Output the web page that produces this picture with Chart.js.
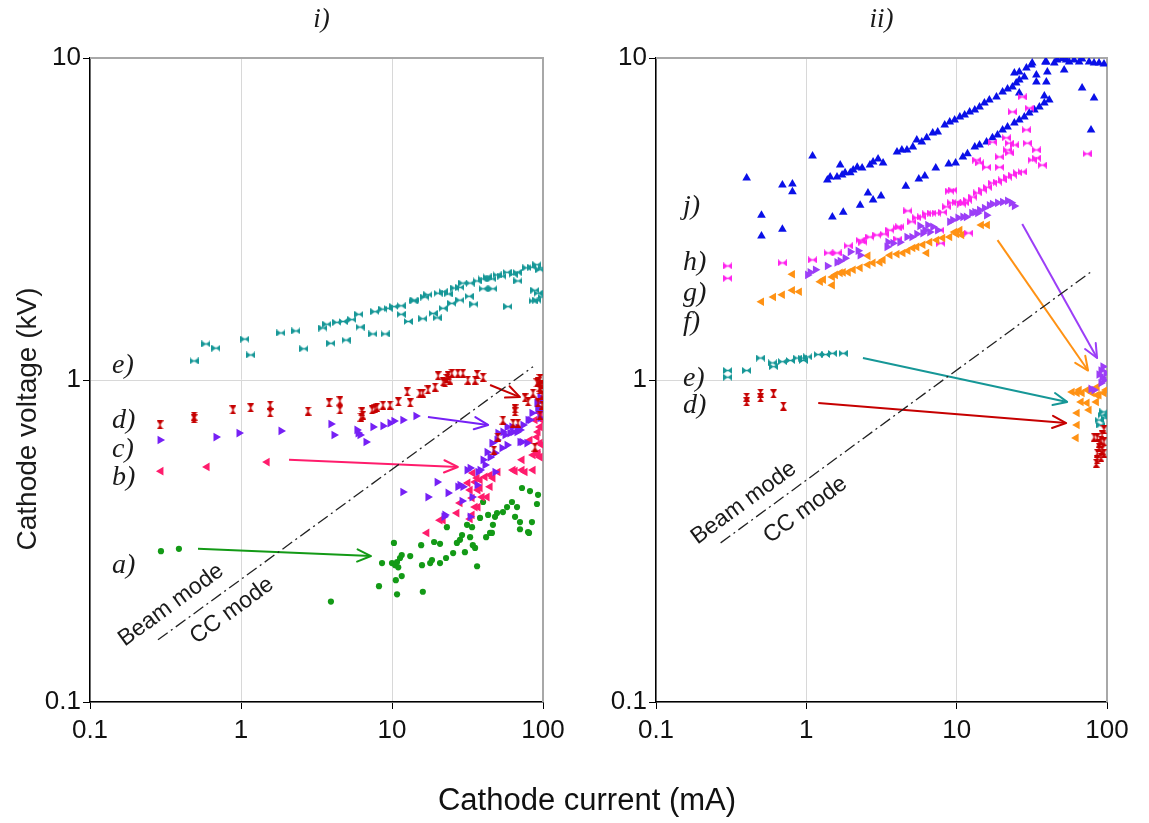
<!DOCTYPE html>
<html>
<head>
<meta charset="utf-8">
<script src="https://cdn.jsdelivr.net/npm/chart.js@4.4.1/dist/chart.umd.min.js"></script>
<style>
  html, body { margin: 0; padding: 0; background: #fff; }
  #wrap { position: relative; width: 1149px; height: 823px; overflow: hidden; background: #fff; }
  #c1 { position: absolute; left: 0; top: 0; }
  #c2 { position: absolute; left: 560px; top: 0; }
  #xt { position: absolute; left: 0; width: 1174px; top: 782px; line-height: 36px; text-align: center;
        font: 31px "Liberation Sans", Arial, sans-serif; color: #111; }
</style>
</head>
<body>
<div id="wrap">
  <canvas id="c1" width="580" height="823"></canvas>
  <canvas id="c2" width="589" height="823"></canvas>
  <div id="xt">Cathode current (mA)</div>
</div>
<script>
// ---- axis ticks ----
const currentTicks = [0.1, 1, 10, 100];
const currentTickLabels = ['0.1', '1', '10', '100'];
const voltageTicks = [0.1, 1, 10];
const voltageTickLabels = ['0.1', '1', '10'];

// ---- panel i) : [cathode current (mA), cathode voltage (kV)] ----
const iA = [[0.295,0.294],[0.388,0.299],[3.94,0.205],[8.20,0.229],[8.59,0.270],[10.3,0.312],[10.0,0.270],[10.5,0.266],[10.8,0.272],[11.0,0.262],[11.3,0.280],[11.6,0.286],[13.2,0.284],[10.6,0.239],[11.6,0.246],[10.8,0.216],[16.0,0.220],[15.6,0.307],[15.8,0.266],[17.9,0.270],[18.4,0.276],[19.0,0.314],[20.8,0.310],[20.8,0.270],[22.8,0.280],[25.4,0.290],[26.9,0.312],[28.2,0.319],[29.1,0.330],[30.4,0.292],[31.4,0.355],[32.9,0.325],[35.5,0.301],[36.6,0.264],[42.0,0.325],[44.6,0.335],[46.6,0.355],[43.3,0.381],[49.6,0.386],[54.3,0.389],[57.8,0.403],[62.3,0.418],[67.3,0.403],[65.3,0.376],[70.4,0.344],[72.6,0.462],[82.0,0.452],[80.8,0.335],[84.5,0.362],[92.7,0.440],[91.2,0.412],[40.1,0.418],[48.1,0.376],[70.4,0.362],[79.6,0.337],[45.9,0.335],[38.3,0.373],[33.9,0.349],[23.1,0.349],[34.3,0.307]];
const iB = [[0.295,0.521],[0.596,0.537],[1.49,0.556],[17.0,0.335],[20.8,0.367],[21.8,0.367],[26.9,0.386],[28.2,0.415],[32.9,0.370],[33.9,0.381],[33.9,0.430],[35.5,0.403],[37.1,0.403],[36.6,0.496],[39.5,0.433],[42.6,0.433],[32.9,0.455],[37.1,0.455],[31.8,0.479],[34.3,0.514],[35.5,0.482],[38.3,0.489],[38.3,0.462],[41.3,0.500],[44.6,0.507],[44.6,0.466],[46.6,0.496],[50.3,0.518],[63.3,0.525],[65.3,0.521],[72.6,0.525],[76.0,0.518],[72.6,0.565],[85.9,0.585],[92.7,0.585],[95.5,0.790],[95.5,0.715],[91.2,0.665],[95.5,0.637],[92.7,0.593],[95.5,0.576],[82.0,0.651],[88.5,0.751],[92.7,0.690],[98.5,0.751],[98.5,0.628],[85.9,0.525]];
const iC = [[0.291,0.651],[0.683,0.665],[0.97,0.684],[1.84,0.695],[3.94,0.730],[4.13,0.675],[5.86,0.700],[5.96,0.684],[6.14,0.675],[6.73,0.642],[7.48,0.715],[8.71,0.720],[9.70,0.735],[10.3,0.746],[11.8,0.751],[14.4,0.773],[11.8,0.449],[17.3,0.433],[19.9,0.482],[22.1,0.376],[22.4,0.381],[23.5,0.446],[27.3,0.466],[28.2,0.472],[29.5,0.466],[29.1,0.421],[31.4,0.525],[32.9,0.533],[32.9,0.376],[33.9,0.433],[36.6,0.472],[37.1,0.518],[38.3,0.525],[40.1,0.565],[41.3,0.545],[42.6,0.597],[44.6,0.576],[45.9,0.637],[48.1,0.593],[48.1,0.518],[49.6,0.651],[50.3,0.684],[53.5,0.615],[54.3,0.690],[56.0,0.675],[57.8,0.715],[57.8,0.628],[60.4,0.684],[62.3,0.715],[63.3,0.690],[67.3,0.690],[68.3,0.710],[70.4,0.700],[70.4,0.642],[72.6,0.642],[73.7,0.725],[78.3,0.637],[79.6,0.751],[82.0,0.751],[84.5,0.790],[91.2,0.849],[92.7,0.824],[92.7,0.807],[95.5,0.885],[95.5,0.762],[98.5,0.867],[98.5,0.807]];
const iD = [[0.291,0.725],[0.489,0.773],[0.489,0.757],[0.885,0.807],[1.16,0.819],[1.56,0.836],[1.56,0.790],[2.78,0.801],[3.83,0.849],[4.52,0.861],[4.52,0.807],[6.32,0.796],[6.42,0.778],[6.23,0.767],[7.38,0.807],[7.71,0.813],[7.95,0.824],[8.71,0.836],[9.70,0.836],[11.0,0.855],[12.6,0.918],[13.2,0.849],[15.3,0.911],[16.0,0.911],[17.3,0.931],[19.3,0.951],[20.2,1.03],[21.8,0.986],[22.4,0.979],[23.1,1.01],[23.5,1.03],[24.2,1.0],[24.9,1.05],[27.3,1.05],[29.5,1.05],[31.8,1.0],[35.5,1.0],[36.6,1.04],[40.1,1.02],[54.3,0.751],[65.3,0.813],[65.3,0.796],[68.3,0.735],[47.3,0.606],[88.5,0.619],[79.6,0.855],[76.0,0.880],[85.9,0.911],[91.2,0.979],[92.7,0.986],[95.5,0.951],[95.5,0.931],[92.7,0.849],[95.5,0.778],[95.5,1.01],[98.5,0.965],[98.5,0.898],[98.5,0.836],[50.3,0.665],[63.3,0.735]];
const iE = [[0.489,1.146],[0.586,1.294],[0.683,1.256],[1.06,1.34],[1.16,1.196],[1.84,1.40],[2.31,1.42],[2.61,1.25],[3.49,1.45],[3.71,1.49],[3.94,1.30],[4.32,1.51],[4.74,1.52],[4.96,1.33],[5.43,1.54],[6.04,1.60],[6.14,1.46],[7.48,1.39],[7.71,1.63],[8.71,1.66],[9.41,1.67],[10.3,1.69],[11.5,1.70],[9.0,1.39],[11.5,1.60],[12.8,1.52],[13.8,1.76],[14.2,1.77],[16.0,1.55],[16.5,1.81],[17.3,1.84],[18.7,1.61],[19.9,1.56],[20.2,1.86],[21.8,1.88],[23.5,1.85],[21.8,1.67],[24.9,1.73],[28.2,1.77],[32.4,1.82],[34.9,1.72],[26.1,1.93],[28.2,1.94],[29.5,2.0],[32.9,2.0],[36.6,2.03],[39.5,2.06],[42.6,2.09],[45.9,2.06],[49.6,2.12],[53.5,2.10],[57.8,2.16],[63.3,2.13],[67.3,2.16],[40.1,1.92],[46.6,1.92],[58.6,1.69],[68.3,2.03],[78.3,2.23],[84.5,2.24],[91.2,2.28],[95.5,2.20],[88.5,1.90],[92.7,1.86],[85.9,1.76],[91.2,1.77],[98.5,2.23],[98.5,1.81]];

// ---- panel ii) ----
const iiD = [[0.401,0.885],[0.401,0.855],[0.496,0.911],[0.496,0.880],[0.605,0.905],[0.704,0.830],[82.0,0.665],[86.0,0.661],[91.2,0.651],[92.7,0.675],[95.5,0.700],[88.5,0.619],[92.7,0.606],[86.0,0.593],[91.2,0.576],[86.0,0.565],[84.8,0.552],[88.5,0.637],[95.5,0.642],[95.5,0.593]];
const iiE = [[0.300,1.07],[0.300,1.02],[0.401,1.07],[0.496,1.17],[0.596,1.13],[0.605,1.10],[0.693,1.14],[0.783,1.15],[0.872,1.17],[0.941,1.17],[0.955,1.15],[1.02,1.18],[1.20,1.20],[1.34,1.20],[1.49,1.21],[1.76,1.21],[95.5,0.796],[92.7,0.778],[88.5,0.751],[91.2,0.725],[97.0,0.762]];
const iiF = [[0.503,1.75],[0.605,1.81],[0.693,1.84],[0.808,1.90],[0.899,1.88],[0.808,2.13],[1.24,2.02],[1.30,2.05],[1.49,2.09],[1.56,2.12],[1.68,2.15],[1.76,2.16],[1.90,2.16],[2.05,2.20],[2.28,2.23],[1.49,1.97],[2.57,2.43],[2.57,2.28],[2.78,2.31],[3.09,2.32],[3.24,2.36],[3.60,2.44],[4.01,2.46],[4.39,2.48],[4.74,2.52],[5.11,2.57],[6.32,2.48],[5.43,2.59],[5.96,2.63],[6.62,2.68],[7.37,2.72],[8.07,2.76],[8.99,2.78],[10.0,2.84],[10.8,2.82],[9.70,2.88],[10.5,2.92],[14.6,3.03],[16.0,3.03],[58.6,0.918],[63.3,0.911],[68.3,0.911],[73.7,0.931],[79.6,0.911],[88.5,0.898],[95.5,0.911],[86.0,0.951],[98.5,0.931],[67.3,0.855],[73.7,0.849],[63.3,0.790],[76.0,0.807],[63.3,0.725],[62.3,0.661],[86.0,0.898],[65.3,0.931],[85.0,0.855]];
const iiG = [[1.02,2.12],[1.06,2.16],[1.15,2.20],[1.38,2.26],[1.60,2.32],[1.68,2.34],[1.81,2.39],[1.96,2.50],[2.21,2.52],[2.28,2.44],[3.44,2.59],[3.49,2.68],[3.77,2.66],[4.19,2.68],[4.67,2.78],[5.04,2.78],[5.43,2.84],[5.69,3.01],[5.96,2.86],[6.14,2.92],[6.42,3.03],[6.62,2.88],[6.93,2.99],[7.48,2.92],[8.99,3.10],[9.41,3.14],[10.2,3.19],[11.0,3.21],[11.6,3.21],[12.6,3.30],[13.2,3.32],[13.8,3.30],[15.8,3.25],[14.2,3.37],[15.3,3.42],[16.5,3.49],[17.3,3.52],[18.7,3.55],[20.2,3.57],[21.8,3.60],[23.1,3.55],[24.2,3.47],[91.2,1.07],[92.7,1.02],[95.5,1.00],[91.2,0.979],[98.5,1.05],[78.3,0.938],[82.0,0.931],[94.0,1.10],[88.5,1.04]];
const iiH = [[0.300,2.26],[0.300,2.07],[0.693,2.31],[1.10,2.36],[1.40,2.48],[1.60,2.48],[1.90,2.61],[2.28,2.72],[2.38,2.68],[2.65,2.78],[2.95,2.82],[3.29,2.84],[3.60,2.92],[4.01,2.97],[4.19,2.99],[4.06,2.74],[4.74,3.35],[5.04,3.10],[5.43,3.19],[5.86,3.21],[6.32,3.28],[6.83,3.30],[7.37,3.30],[8.07,3.32],[8.59,3.45],[9.27,3.55],[10.0,3.57],[10.8,3.52],[11.3,3.55],[8.99,3.86],[9.41,3.89],[7.83,2.66],[12.0,2.86],[7.71,2.92],[11.8,3.62],[12.8,3.70],[13.8,3.81],[14.9,3.89],[16.0,3.97],[17.3,4.09],[18.7,4.12],[20.2,4.18],[21.8,4.27],[23.5,4.33],[25.4,4.40],[27.3,4.43],[31.8,4.82],[33.9,4.89],[37.1,4.65],[13.6,4.82],[14.2,4.72],[15.8,4.58],[19.3,4.58],[19.3,4.93],[17.3,5.48],[21.4,5.65],[22.4,5.44],[24.2,5.37],[21.8,5.18],[22.4,5.07],[29.5,5.44],[33.9,5.18],[29.1,5.98],[23.5,6.80],[27.3,7.57],[30.4,6.99],[73.7,5.04]];
const iiJ = [[0.401,4.24],[0.503,3.25],[0.503,2.80],[0.693,4.03],[0.808,4.06],[0.808,3.84],[0.693,2.94],[1.10,4.96],[1.49,3.21],[1.76,3.32],[1.38,4.18],[1.44,4.27],[1.60,4.27],[1.68,4.65],[1.73,4.33],[1.81,4.40],[1.96,4.40],[2.05,4.49],[2.18,4.58],[2.35,4.55],[2.65,4.65],[2.78,4.75],[3.00,4.86],[3.24,4.72],[2.28,3.49],[2.57,3.81],[2.78,3.62],[3.14,3.73],[4.01,5.11],[4.32,5.18],[4.67,5.18],[5.11,5.29],[5.43,5.56],[5.86,5.48],[6.32,5.65],[6.93,5.85],[7.48,5.89],[8.33,6.19],[8.99,6.33],[9.70,6.42],[10.5,6.56],[11.3,6.65],[12.2,6.80],[13.2,6.90],[14.2,7.05],[15.3,7.25],[16.5,7.41],[18.4,7.57],[20.2,7.84],[21.8,8.01],[23.5,8.13],[24.9,8.36],[26.1,8.55],[28.2,8.73],[24.2,8.98],[26.1,9.05],[29.1,9.31],[31.4,9.51],[31.8,9.65],[33.9,8.85],[39.5,9.72],[40.1,9.05],[4.59,4.00],[5.60,4.21],[6.14,4.30],[7.26,4.55],[8.85,4.69],[9.84,4.72],[11.0,4.93],[11.8,5.04],[13.2,5.29],[14.2,5.37],[15.8,5.48],[17.3,5.65],[18.7,5.77],[20.2,5.98],[21.8,6.11],[24.2,6.28],[26.1,6.42],[28.2,6.56],[30.4,6.75],[32.9,6.90],[35.5,7.05],[38.3,7.25],[41.3,7.41],[26.1,7.78],[33.9,8.42],[39.5,8.42],[38.3,7.62],[44.6,9.65],[46.6,9.86],[50.3,9.95],[53.5,9.86],[56.0,9.72],[60.4,9.86],[65.3,9.72],[68.3,9.93],[76.0,9.72],[82.0,9.65],[88.5,9.65],[95.5,9.58],[51.9,9.18],[68.3,8.07],[82.0,7.51],[78.3,5.98],[38.9,9.72]];

// ---- beam / CC mode boundary ----
const iBoundary = [[0.282,0.156],[85.9,1.10]];
const iiBoundary = [[0.269,0.312],[79.6,2.18]];

// ---- arrows [start, end] ----
const iArrowA = [[0.519,0.299],[7.26,0.284]];
const iArrowB = [[2.08,0.565],[27.3,0.537]];
const iArrowC = [[17.3,0.767],[43.3,0.725]];
const iArrowD = [[44.6,0.965],[70.4,0.885]];
const iiArrowG = [[27.3,3.05],[85.9,1.17]];
const iiArrowF = [[18.7,2.72],[74.8,1.07]];
const iiArrowE = [[2.38,1.17],[54.3,0.855]];
const iiArrowD = [[1.20,0.849],[53.5,0.735]];

// ---- series labels [text, current, voltage] ----
const iLabels = [['e)',0.14,1.11],['d)',0.14,0.746],['c)',0.14,0.606],['b)',0.14,0.496],['a)',0.14,0.266]];
const iiLabels = [['j)',0.151,3.45],['h)',0.151,2.31],['g)',0.151,1.86],['f)',0.151,1.51],['e)',0.151,1.01],['d)',0.151,0.83]];
const iModes = [['Beam mode',0.344,0.200],['CC mode',0.871,0.192]];
const iiModes = [['Beam mode',0.383,0.415],['CC mode',0.985,0.395]];

// ---- colours ----
const C = {
  teal: '#169797', red: '#c60000', purple: '#7620f5', pink: '#ff1c6c', green: '#139a16',
  blue: '#0a10e8', magenta: '#ff22ee', violet: '#9c3ef7', orange: '#ff9214'
};
const SANS = '"Liberation Sans", Arial, sans-serif';
const SERIF = '"Liberation Serif", "DejaVu Serif", serif';

// marker glyphs drawn to small canvases
function tie(color, w, h, vertical) {
  const c = document.createElement('canvas');
  c.width = w; c.height = h;
  const g = c.getContext('2d');
  g.fillStyle = color;
  g.beginPath();
  if (!vertical) {
    g.moveTo(0, 0); g.lineTo(w / 2, h / 2); g.lineTo(0, h); g.closePath();
    g.moveTo(w, 0); g.lineTo(w / 2, h / 2); g.lineTo(w, h); g.closePath();
    g.fillRect(0, h / 2 - 0.7, w, 1.4);
  } else {
    g.moveTo(0, 0); g.lineTo(w, 0); g.lineTo(w / 2, h / 2); g.closePath();
    g.moveTo(0, h); g.lineTo(w, h); g.lineTo(w / 2, h / 2); g.closePath();
    g.fillRect(w / 2 - 0.7, 0, 1.4, h);
  }
  g.fill();
  return c;
}

const pts = arr => arr.map(p => ({ x: p[0], y: p[1] }));

function markers(arr, color, style, radius, rotation) {
  return {
    data: pts(arr), showLine: false,
    pointStyle: style, pointRadius: radius, pointRotation: rotation || 0,
    pointBackgroundColor: color, pointBorderColor: color, pointBorderWidth: 0,
    backgroundColor: color, borderColor: color
  };
}
function segment(arr, color, width, dash, head) {
  return {
    data: pts(arr), showLine: true, pointRadius: 0, borderColor: color, borderWidth: width,
    borderDash: dash || [], fill: false, tension: 0, arrowHead: !!head, clip: false
  };
}

const arrowHeads = {
  id: 'arrowHeads',
  afterDatasetsDraw(chart) {
    const ctx = chart.ctx;
    chart.data.datasets.forEach((ds, i) => {
      if (!ds.arrowHead) return;
      const el = chart.getDatasetMeta(i).data;
      const a = el[0], b = el[el.length - 1];
      const ang = Math.atan2(b.y - a.y, b.x - a.x);
      const L = 15, s = 0.42;
      ctx.save();
      ctx.strokeStyle = ds.borderColor; ctx.lineWidth = ds.borderWidth;
      ctx.lineCap = 'round'; ctx.lineJoin = 'round';
      ctx.beginPath();
      ctx.moveTo(b.x - L * Math.cos(ang - s), b.y - L * Math.sin(ang - s));
      ctx.lineTo(b.x, b.y);
      ctx.lineTo(b.x - L * Math.cos(ang + s), b.y - L * Math.sin(ang + s));
      ctx.stroke();
      ctx.restore();
    });
  }
};

function notes(cfg) {
  return {
    id: 'notes',
    beforeDatasetsDraw(chart) {
      const { ctx, chartArea: ca } = chart;
      ctx.save();
      ctx.strokeStyle = '#a8a8a8'; ctx.lineWidth = 2;
      ctx.beginPath();
      ctx.moveTo(ca.left, ca.top); ctx.lineTo(ca.right, ca.top); ctx.lineTo(ca.right, ca.bottom);
      ctx.stroke();
      ctx.restore();
    },
    afterDraw(chart) {
      const { ctx, chartArea: ca, scales: { x, y } } = chart;
      ctx.save();
      ctx.fillStyle = '#1a1a1a';
      ctx.textBaseline = 'middle';
      // panel title
      ctx.font = 'italic 27px ' + SERIF;
      ctx.textAlign = 'center';
      ctx.fillText(cfg.title, (ca.left + ca.right) / 2 + cfg.titleShift, 20);
      // series labels
      ctx.font = 'italic 28px ' + SERIF;
      ctx.textAlign = 'left';
      cfg.labels.forEach(l => ctx.fillText(l[0], x.getPixelForValue(l[1]), y.getPixelForValue(l[2])));
      // mode texts along the boundary
      const b = chart.getDatasetMeta(cfg.boundaryIndex).data;
      const ang = Math.atan2(b[1].y - b[0].y, b[1].x - b[0].x);
      ctx.font = '23px ' + SANS;
      ctx.textAlign = 'center';
      cfg.modes.forEach(m => {
        ctx.save();
        ctx.translate(x.getPixelForValue(m[1]), y.getPixelForValue(m[2]));
        ctx.rotate(ang);
        ctx.fillText(m[0], 0, 0);
        ctx.restore();
      });
      // vertical axis title
      if (cfg.yTitle) {
        ctx.save();
        ctx.font = '28px ' + SANS;
        ctx.translate(28, 419);
        ctx.rotate(-Math.PI / 2);
        ctx.fillText(cfg.yTitle, 0, 0);
        ctx.restore();
      }
      ctx.restore();
    }
  };
}

function labelFor(values, labels) {
  return v => {
    const k = values.findIndex(t => Math.abs(t - v) < 1e-9);
    return k >= 0 ? labels[k] : '';
  };
}

function scales(yWidth) {
  const common = {
    type: 'logarithmic',
    grid: { color: '#d8d8d8', lineWidth: 1, tickColor: '#000', tickLength: 7, drawTicks: true },
    border: { color: '#000', width: 1.5 }
  };
  return {
    x: Object.assign({}, common, {
      min: 0.1, max: 100,
      afterBuildTicks: s => { s.ticks = currentTicks.map(v => ({ value: v })); },
      afterFit: s => { s.height = 60; },
      ticks: { callback: labelFor(currentTicks, currentTickLabels), autoSkip: false, maxRotation: 0,
               padding: 6, color: '#111', font: { family: SANS, size: 26 } }
    }),
    y: Object.assign({}, common, {
      min: 0.1, max: 10,
      afterBuildTicks: s => { s.ticks = voltageTicks.map(v => ({ value: v })); },
      afterFit: s => { s.width = yWidth; },
      ticks: { callback: labelFor(voltageTicks, voltageTickLabels), autoSkip: false,
               padding: 2, color: '#111', font: { family: SANS, size: 26 } }
    })
  };
}

function panel(id, datasets, yWidth, padRight, cfg) {
  return new Chart(document.getElementById(id), {
    type: 'scatter',
    data: { datasets },
    options: {
      responsive: false, animation: false, events: [],
      layout: { padding: { left: 0, top: 58, right: padRight, bottom: 61 } },
      plugins: { legend: { display: false }, tooltip: { enabled: false } },
      scales: scales(yWidth)
    },
    plugins: [notes(cfg), arrowHeads]
  });
}

// panel i)
panel('c1', [
  segment(iBoundary, '#222', 1.3, [12, 4, 2, 4]),
  segment(iArrowA, C.green, 2, null, true),
  segment(iArrowB, C.pink, 2, null, true),
  segment(iArrowC, C.purple, 2, null, true),
  segment(iArrowD, C.red, 2, null, true),
  markers(iD, C.red, tie(C.red, 7, 9, true), 5),
  markers(iC, C.purple, 'triangle', 5, 90),
  markers(iB, C.pink, 'triangle', 5, -90),
  markers(iA, C.green, 'circle', 3.1),
  markers(iE, C.teal, tie(C.teal, 9, 7, false), 5)
], 90, 37, { title: 'i)', titleShift: 5, labels: iLabels, modes: iModes, boundaryIndex: 0,
             yTitle: 'Cathode voltage (kV)' });

// panel ii)
panel('c2', [
  segment(iiBoundary, '#222', 1.3, [12, 4, 2, 4]),
  segment(iiArrowG, C.violet, 2, null, true),
  segment(iiArrowF, C.orange, 2, null, true),
  segment(iiArrowE, C.teal, 2, null, true),
  segment(iiArrowD, C.red, 2, null, true),
  markers(iiG, C.violet, 'triangle', 5, 90),
  markers(iiF, C.orange, 'triangle', 5, -90),
  markers(iiD, C.red, tie(C.red, 7, 9, true), 5),
  markers(iiE, C.teal, tie(C.teal, 9, 7, false), 5),
  markers(iiH, C.magenta, tie(C.magenta, 9, 7, false), 5),
  markers(iiJ, C.blue, 'triangle', 5, 0)
], 96, 42, { title: 'ii)', titleShift: 0, labels: iiLabels, modes: iiModes, boundaryIndex: 0 });
</script>
</body>
</html>
